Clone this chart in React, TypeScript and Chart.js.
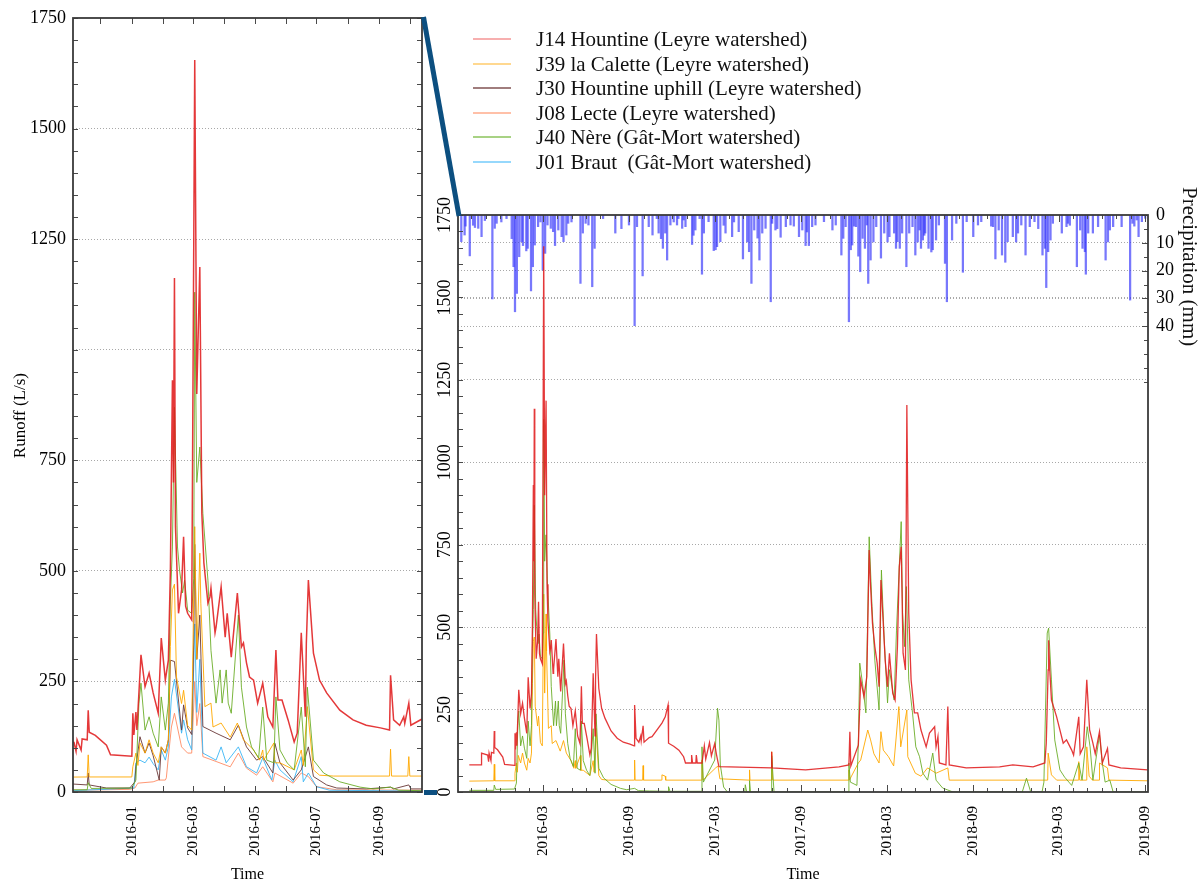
import React, { useEffect, useRef } from 'react';
import { Chart, registerables } from 'chart.js';

Chart.register(...registerables);

type Pt = [string, number];

const FONT = '"Liberation Serif", "Times New Roman", serif';

// ---------- Runoff series (L/s) ----------
const J14_HOUNTINE: Pt[] = [
  ['2015-09-27', 82], ['2015-10-22', 82], ['2015-10-23', 118], ['2015-11-05', 112], ['2015-11-07', 92],
  ['2015-11-08', 118], ['2015-11-12', 95], ['2015-11-13', 120], ['2015-11-18', 118], ['2015-11-19', 185],
  ['2015-11-20', 135], ['2015-11-26', 128], ['2015-12-07', 106], ['2015-12-11', 84], ['2016-01-01', 81],
  ['2016-01-02', 178], ['2016-01-03', 129], ['2016-01-05', 181], ['2016-01-06', 140], ['2016-01-10', 310],
  ['2016-01-14', 238], ['2016-01-18', 269], ['2016-01-22', 224], ['2016-01-27', 178], ['2016-01-30', 348],
  ['2016-02-03', 253], ['2016-02-06', 298], ['2016-02-08', 502], ['2016-02-10', 931], ['2016-02-11', 700],
  ['2016-02-12', 1162], ['2016-02-13', 600], ['2016-02-16', 404], ['2016-02-19', 457], ['2016-02-21', 577],
  ['2016-02-23', 420], ['2016-02-25', 404], ['2016-02-29', 389], ['2016-03-03', 1655], ['2016-03-05', 900],
  ['2016-03-08', 1187], ['2016-03-10', 630], ['2016-03-12', 518], ['2016-03-16', 427], ['2016-03-18', 441],
  ['2016-03-19', 461], ['2016-03-23', 360], ['2016-03-24', 373], ['2016-03-29', 464], ['2016-04-02', 350],
  ['2016-04-04', 404], ['2016-04-08', 305], ['2016-04-14', 450], ['2016-04-18', 328], ['2016-04-20', 337],
  ['2016-04-23', 292], ['2016-04-26', 260], ['2016-04-30', 253], ['2016-05-04', 201], ['2016-05-09', 246],
  ['2016-05-14', 170], ['2016-05-19', 147], ['2016-05-22', 321], ['2016-05-24', 208], ['2016-05-28', 208],
  ['2016-06-03', 163], ['2016-06-09', 113], ['2016-06-12', 133], ['2016-06-16', 360], ['2016-06-20', 170],
  ['2016-06-21', 337], ['2016-06-23', 479], ['2016-06-28', 314], ['2016-07-04', 253], ['2016-07-11', 224],
  ['2016-07-24', 185], ['2016-08-06', 163], ['2016-08-19', 151], ['2016-09-02', 145], ['2016-09-11', 140],
  ['2016-09-12', 264], ['2016-09-15', 163], ['2016-09-21', 151], ['2016-09-25', 170], ['2016-09-26', 155],
  ['2016-09-30', 201], ['2016-10-02', 151], ['2016-10-13', 165], ['2016-10-19', 168], ['2016-11-09', 209],
  ['2016-11-16', 228], ['2016-11-22', 264], ['2016-11-23', 148], ['2016-12-04', 139], ['2016-12-15', 127],
  ['2016-12-25', 107], ['2016-12-29', 88], ['2017-01-10', 88], ['2017-01-11', 112], ['2017-01-13', 88],
  ['2017-01-20', 88], ['2017-01-21', 112], ['2017-01-23', 88], ['2017-02-02', 88], ['2017-02-07', 140],
  ['2017-02-10', 100], ['2017-02-18', 150], ['2017-02-22', 110], ['2017-03-01', 146], ['2017-03-05', 112],
  ['2017-03-10', 77], ['2017-06-29', 73], ['2017-06-30', 122], ['2017-07-01', 73], ['2017-09-10', 67],
  ['2017-11-20', 76], ['2017-12-11', 82], ['2017-12-13', 183], ['2017-12-15', 79], ['2017-12-31', 142],
  ['2018-01-05', 340], ['2018-01-12', 289], ['2018-01-18', 350], ['2018-01-23', 734], ['2018-01-26', 623],
  ['2018-01-30', 512], ['2018-02-04', 441], ['2018-02-09', 391], ['2018-02-13', 319], ['2018-02-17', 643],
  ['2018-02-20', 562], ['2018-02-26', 400], ['2018-03-03', 319], ['2018-03-07', 421], ['2018-03-14', 300],
  ['2018-03-19', 279], ['2018-03-24', 441], ['2018-03-28', 683], ['2018-04-01', 744], ['2018-04-05', 421],
  ['2018-04-10', 370], ['2018-04-13', 1174], ['2018-04-17', 543], ['2018-04-22', 340], ['2018-04-29', 240],
  ['2018-05-06', 240], ['2018-05-13', 188], ['2018-05-24', 137], ['2018-05-31', 179], ['2018-06-11', 198],
  ['2018-06-14', 137], ['2018-06-18', 168], ['2018-06-21', 88], ['2018-07-05', 82], ['2018-07-09', 259],
  ['2018-07-12', 82], ['2018-08-17', 73], ['2018-10-27', 76], ['2018-11-24', 82], ['2019-01-06', 76],
  ['2019-01-31', 88], ['2019-02-03', 148], ['2019-02-07', 370], ['2019-02-08', 460], ['2019-02-10', 380],
  ['2019-02-14', 279], ['2019-02-25', 228], ['2019-03-11', 148], ['2019-03-18', 158], ['2019-03-29', 127],
  ['2019-04-02', 112], ['2019-04-13', 228], ['2019-04-16', 116], ['2019-04-23', 137], ['2019-04-30', 340],
  ['2019-05-06', 188], ['2019-05-13', 148], ['2019-05-18', 116], ['2019-05-27', 183], ['2019-06-02', 88],
  ['2019-06-13', 132], ['2019-06-16', 82], ['2019-07-11', 73], ['2019-09-06', 67],
];

const J39_CALETTE: Pt[] = [
  ['2015-09-27', 33], ['2015-11-18', 34], ['2015-11-19', 84], ['2015-11-20', 34], ['2016-01-01', 34],
  ['2016-01-02', 57], ['2016-01-05', 88], ['2016-01-07', 60], ['2016-01-09', 111], ['2016-01-14', 88],
  ['2016-01-18', 118], ['2016-01-22', 88], ['2016-01-27', 66], ['2016-01-30', 102], ['2016-02-03', 88],
  ['2016-02-06', 118], ['2016-02-08', 329], ['2016-02-10', 457], ['2016-02-12', 470], ['2016-02-14', 260],
  ['2016-02-19', 200], ['2016-02-21', 230], ['2016-02-25', 150], ['2016-02-29', 140], ['2016-03-03', 600],
  ['2016-03-05', 300], ['2016-03-08', 540], ['2016-03-09', 427], ['2016-03-13', 193], ['2016-03-19', 201],
  ['2016-03-21', 147], ['2016-03-29', 156], ['2016-04-07', 124], ['2016-04-14', 156], ['2016-04-20', 118],
  ['2016-04-30', 95], ['2016-05-06', 72], ['2016-05-09', 95], ['2016-05-10', 72], ['2016-05-20', 111],
  ['2016-05-21', 66], ['2016-05-26', 66], ['2016-06-09', 50], ['2016-06-16', 95], ['2016-06-18', 60],
  ['2016-06-22', 193], ['2016-06-28', 50], ['2016-07-04', 38], ['2016-07-18', 36], ['2016-09-11', 36],
  ['2016-09-12', 97], ['2016-09-13', 36], ['2016-09-29', 36], ['2016-09-30', 80], ['2016-10-01', 36],
  ['2016-11-08', 36], ['2016-11-09', 52], ['2016-11-16', 48], ['2016-11-17', 36], ['2017-02-01', 36],
  ['2017-02-02', 97], ['2017-02-04', 36], ['2017-03-03', 73], ['2017-03-08', 79], ['2017-03-12', 40],
  ['2017-05-13', 36], ['2017-05-14', 67], ['2017-05-15', 36], ['2017-06-29', 36], ['2017-06-30', 122],
  ['2017-07-02', 36], ['2017-12-10', 36], ['2017-12-11', 67], ['2017-12-12', 36], ['2017-12-31', 88],
  ['2018-01-05', 97], ['2018-01-20', 188], ['2018-01-26', 158], ['2018-02-02', 116], ['2018-02-13', 88],
  ['2018-02-17', 183], ['2018-02-22', 127], ['2018-03-05', 107], ['2018-03-16', 79], ['2018-03-27', 259],
  ['2018-03-31', 137], ['2018-04-13', 249], ['2018-04-15', 107], ['2018-05-01', 57], ['2018-05-13', 48],
  ['2018-05-27', 73], ['2018-06-03', 67], ['2018-06-14', 57], ['2018-07-09', 73], ['2018-07-12', 36],
  ['2019-02-06', 36], ['2019-02-07', 118], ['2019-02-14', 52], ['2019-02-25', 36], ['2019-04-12', 36],
  ['2019-04-13', 92], ['2019-04-15', 36], ['2019-04-29', 36], ['2019-04-30', 137], ['2019-05-05', 48],
  ['2019-05-12', 36], ['2019-05-26', 36], ['2019-05-27', 88], ['2019-06-13', 73], ['2019-06-16', 36],
  ['2019-09-06', 34],
];

const J40_NERE: Pt[] = [
  ['2015-09-27', 5], ['2015-11-18', 5], ['2015-11-19', 21], ['2015-11-22', 8], ['2016-01-01', 9],
  ['2016-01-05', 27], ['2016-01-08', 201], ['2016-01-10', 246], ['2016-01-14', 140], ['2016-01-18', 170],
  ['2016-01-22', 133], ['2016-01-27', 102], ['2016-01-30', 215], ['2016-02-03', 140], ['2016-02-06', 201],
  ['2016-02-08', 434], ['2016-02-10', 554], ['2016-02-12', 870], ['2016-02-15', 554], ['2016-02-17', 502],
  ['2016-02-20', 450], ['2016-02-22', 479], ['2016-02-25', 411], ['2016-02-29', 404], ['2016-03-02', 482],
  ['2016-03-03', 1130], ['2016-03-05', 700], ['2016-03-08', 780], ['2016-03-11', 630], ['2016-03-16', 479],
  ['2016-03-19', 320], ['2016-03-24', 201], ['2016-03-28', 276], ['2016-03-30', 201], ['2016-04-03', 276],
  ['2016-04-05', 201], ['2016-04-08', 178], ['2016-04-15', 400], ['2016-04-18', 237], ['2016-04-23', 147],
  ['2016-04-28', 102], ['2016-05-05', 77], ['2016-05-09', 192], ['2016-05-13', 72], ['2016-05-20', 66],
  ['2016-05-22', 215], ['2016-05-26', 95], ['2016-06-02', 66], ['2016-06-09', 50], ['2016-06-16', 192],
  ['2016-06-20', 57], ['2016-06-22', 237], ['2016-06-28', 72], ['2016-07-08', 43], ['2016-07-24', 23],
  ['2016-08-13', 11], ['2016-08-26', 7], ['2016-09-12', 11], ['2016-09-20', 4], ['2016-10-13', 3],
  ['2016-11-22', 2], ['2016-11-23', 16], ['2016-11-26', 2], ['2017-02-01', 2], ['2017-02-02', 137],
  ['2017-02-05', 30], ['2017-03-01', 97], ['2017-03-07', 254], ['2017-03-10', 218], ['2017-03-13', 82],
  ['2017-03-20', 15], ['2017-03-28', 0], ['2017-05-04', 0], ['2017-05-05', 22], ['2017-05-08', 0],
  ['2017-05-13', 0], ['2017-05-14', 35], ['2017-05-16', 0], ['2017-06-29', 0], ['2017-06-30', 110],
  ['2017-07-05', 0], ['2017-12-10', 0], ['2017-12-11', 88], ['2017-12-14', 30], ['2017-12-28', 20],
  ['2017-12-31', 150], ['2018-01-03', 391], ['2018-01-09', 328], ['2018-01-16', 240], ['2018-01-23', 774],
  ['2018-01-29', 562], ['2018-02-04', 400], ['2018-02-13', 249], ['2018-02-18', 673], ['2018-02-24', 461],
  ['2018-03-03', 270], ['2018-03-07', 371], ['2018-03-17', 279], ['2018-03-22', 491], ['2018-04-01', 820],
  ['2018-04-04', 543], ['2018-04-08', 441], ['2018-04-12', 623], ['2018-04-17', 340], ['2018-04-25', 240],
  ['2018-05-02', 137], ['2018-05-10', 107], ['2018-05-17', 57], ['2018-05-27', 36], ['2018-06-07', 118],
  ['2018-06-14', 36], ['2018-06-28', 12], ['2018-07-09', 6], ['2018-07-20', 0], ['2018-12-14', 0],
  ['2018-12-23', 42], ['2019-01-01', 0], ['2019-01-25', 0], ['2019-01-29', 30], ['2019-02-05', 482],
  ['2019-02-08', 497], ['2019-02-14', 340], ['2019-02-21', 158], ['2019-03-04', 67], ['2019-03-14', 45],
  ['2019-03-29', 20], ['2019-04-13', 88], ['2019-04-20', 36], ['2019-05-01', 198], ['2019-05-07', 137],
  ['2019-05-13', 36], ['2019-05-27', 173], ['2019-06-02', 88], ['2019-06-08', 30], ['2019-06-18', 36],
  ['2019-06-25', 0], ['2019-09-06', 0],
];

const J30_HOUNTINE_UPHILL: Pt[] = [
  ['2015-11-04', 18], ['2015-11-18', 16], ['2015-11-19', 43], ['2015-11-20', 16], ['2015-12-07', 9],
  ['2015-12-30', 9], ['2016-01-04', 23], ['2016-01-05', 57], ['2016-01-09', 125], ['2016-01-14', 88],
  ['2016-01-18', 111], ['2016-01-22', 82], ['2016-01-28', 27], ['2016-01-30', 102], ['2016-02-03', 88],
  ['2016-02-06', 118], ['2016-02-08', 298], ['2016-02-12', 295], ['2016-02-19', 140], ['2016-02-21', 197],
  ['2016-02-25', 145], ['2016-02-29', 130], ['2016-03-02', 337], ['2016-03-03', 560], ['2016-03-05', 300],
  ['2016-03-08', 400], ['2016-03-11', 148], ['2016-03-24', 133], ['2016-04-07', 118], ['2016-04-15', 151],
  ['2016-04-23', 102], ['2016-05-03', 72], ['2016-05-09', 80], ['2016-05-19', 43], ['2016-05-21', 110],
  ['2016-05-26', 66], ['2016-06-08', 27], ['2016-06-16', 50], ['2016-06-23', 102], ['2016-06-28', 35],
  ['2016-07-11', 16], ['2016-07-21', 9], ['2016-08-19', 7], ['2016-09-12', 11], ['2016-09-15', 7],
  ['2016-09-30', 16], ['2016-10-02', 7], ['2016-10-13', 7],
];

const J08_LECTE: Pt[] = [
  ['2015-11-04', 4], ['2015-12-30', 6], ['2016-01-04', 9], ['2016-01-07', 20], ['2016-01-22', 23],
  ['2016-01-27', 27], ['2016-02-03', 27], ['2016-02-04', 32], ['2016-02-06', 79], ['2016-02-09', 147],
  ['2016-02-12', 178], ['2016-02-19', 102], ['2016-02-25', 88], ['2016-02-29', 88], ['2016-03-03', 250],
  ['2016-03-05', 150], ['2016-03-08', 200], ['2016-03-11', 80], ['2016-03-24', 69], ['2016-04-07', 57],
  ['2016-04-15', 88], ['2016-04-23', 54], ['2016-05-03', 38], ['2016-05-09', 57], ['2016-05-19', 23],
  ['2016-05-21', 43], ['2016-06-08', 20], ['2016-06-16', 43], ['2016-06-23', 35], ['2016-07-01', 12],
  ['2016-07-21', 5], ['2016-10-13', 4],
];

const J01_BRAUT: Pt[] = [
  ['2015-11-04', 3], ['2016-01-03', 9], ['2016-01-05', 66], ['2016-01-09', 72], ['2016-01-14', 66],
  ['2016-01-18', 79], ['2016-01-22', 64], ['2016-01-27', 50], ['2016-01-30', 95], ['2016-02-03', 72],
  ['2016-02-06', 102], ['2016-02-09', 215], ['2016-02-12', 255], ['2016-02-19', 133], ['2016-02-21', 163],
  ['2016-02-25', 118], ['2016-02-29', 95], ['2016-03-03', 380], ['2016-03-05', 180], ['2016-03-08', 300],
  ['2016-03-11', 88], ['2016-03-24', 72], ['2016-03-29', 102], ['2016-04-03', 66], ['2016-04-15', 102],
  ['2016-04-23', 57], ['2016-05-03', 43], ['2016-05-09', 77], ['2016-05-18', 27], ['2016-05-21', 72],
  ['2016-05-26', 50], ['2016-06-08', 23], ['2016-06-16', 80], ['2016-06-18', 23], ['2016-06-23', 43],
  ['2016-07-01', 12], ['2016-07-14', 4], ['2016-10-13', 2],
];

// ---------- Daily precipitation (mm) ----------
const PRECIP_MM: Pt[] = [
  ['2015-09-10', 9.6], ['2015-09-17', 7.2], ['2015-09-19', 4], ['2015-09-28', 14.7], ['2015-10-05', 3.7],
  ['2015-10-09', 4.5], ['2015-10-16', 4.8], ['2015-10-23', 7.8], ['2015-10-30', 2], ['2015-11-15', 30.2],
  ['2015-11-20', 4.8], ['2015-11-24', 3], ['2015-12-04', 2.5], ['2015-12-15', 1.3], ['2015-12-26', 8.5],
  ['2015-12-30', 18.6], ['2016-01-02', 34.8], ['2016-01-06', 28.2], ['2016-01-11', 15], ['2016-01-16', 9.6],
  ['2016-01-19', 11], ['2016-01-26', 12.9], ['2016-01-29', 12], ['2016-02-05', 27.3], ['2016-02-09', 18.6],
  ['2016-02-13', 10.8], ['2016-02-20', 4.2], ['2016-02-25', 2.5], ['2016-03-01', 19.8], ['2016-03-06', 13.8],
  ['2016-03-11', 3.6], ['2016-03-18', 4.8], ['2016-03-23', 6], ['2016-03-27', 11], ['2016-04-03', 5.4],
  ['2016-04-10', 7.8], ['2016-04-14', 9.6], ['2016-04-20', 7.2], ['2016-04-24', 3], ['2016-05-01', 2.5],
  ['2016-05-20', 24.6], ['2016-05-25', 6.5], ['2016-05-31', 3], ['2016-06-06', 3.6], ['2016-06-14', 25.8],
  ['2016-06-19', 12], ['2016-07-07', 1.3], ['2016-08-02', 6.5], ['2016-08-15', 4.9], ['2016-08-31', 3.6],
  ['2016-09-12', 39.8], ['2016-09-17', 4.2], ['2016-09-29', 21.9], ['2016-10-12', 4.2], ['2016-10-20', 7.2],
  ['2016-10-29', 1.3], ['2016-11-02', 6.5], ['2016-11-07', 8.5], ['2016-11-11', 12], ['2016-11-16', 6.5],
  ['2016-11-20', 16.2], ['2016-11-27', 3.6], ['2016-12-04', 2.5], ['2016-12-11', 3.6], ['2016-12-14', 1.3],
  ['2016-12-22', 4.8], ['2016-12-25', 1.8], ['2016-12-29', 4.2], ['2017-01-12', 10.6], ['2017-01-15', 7.3],
  ['2017-01-19', 5.4], ['2017-01-28', 1.3], ['2017-02-02', 21.3], ['2017-02-06', 6.5], ['2017-02-16', 2.4],
  ['2017-02-27', 12.8], ['2017-03-03', 12.5], ['2017-03-06', 11.4], ['2017-03-13', 9.6], ['2017-03-20', 3.7],
  ['2017-03-24', 6.5], ['2017-04-07', 7.8], ['2017-04-11', 2.5], ['2017-04-21', 6], ['2017-04-30', 15.8],
  ['2017-05-09', 9.7], ['2017-05-13', 13.2], ['2017-05-18', 24.6], ['2017-05-24', 5.4], ['2017-05-31', 8.3],
  ['2017-06-04', 16.2], ['2017-06-10', 6.5], ['2017-06-17', 4.8], ['2017-06-28', 31.2], ['2017-07-01', 3],
  ['2017-07-08', 5.4], ['2017-07-12', 4.9], ['2017-07-19', 8], ['2017-07-30', 4.2], ['2017-08-09', 3.6],
  ['2017-08-16', 4], ['2017-08-27', 7.8], ['2017-09-03', 5.4], ['2017-09-10', 11], ['2017-09-13', 6.1],
  ['2017-09-17', 11], ['2017-09-24', 4.2], ['2017-10-01', 3.6], ['2017-10-19', 2.4], ['2017-11-06', 5.4],
  ['2017-11-13', 3.6], ['2017-11-25', 14.4], ['2017-11-29', 8.4], ['2017-12-04', 4.2], ['2017-12-11', 38.4],
  ['2017-12-15', 12.5], ['2017-12-18', 10.8], ['2017-12-22', 4], ['2017-12-26', 4.2], ['2017-12-31', 14.8],
  ['2018-01-04', 20.4], ['2018-01-09', 8.4], ['2018-01-14', 12], ['2018-01-18', 3.6], ['2018-01-21', 24.6],
  ['2018-01-26', 16.2], ['2018-02-01', 9.7], ['2018-02-07', 4.2], ['2018-02-17', 15.5], ['2018-02-24', 6.5],
  ['2018-03-03', 9.7], ['2018-03-07', 7.8], ['2018-03-17', 6.5], ['2018-03-21', 12], ['2018-03-24', 9.6],
  ['2018-03-29', 12], ['2018-04-03', 6.5], ['2018-04-12', 18.6], ['2018-04-18', 6.5], ['2018-04-25', 4.2],
  ['2018-05-01', 14.4], ['2018-05-06', 9.7], ['2018-05-10', 5.4], ['2018-05-13', 12], ['2018-05-17', 9],
  ['2018-05-20', 7.3], ['2018-05-22', 6.5], ['2018-05-29', 12], ['2018-06-04', 13.3], ['2018-06-07', 12.5],
  ['2018-06-14', 9], ['2018-06-20', 3.6], ['2018-07-03', 17.4], ['2018-07-07', 31.2], ['2018-07-18', 9],
  ['2018-07-27', 3], ['2018-08-10', 20.6], ['2018-08-18', 2.4], ['2018-09-01', 7.8], ['2018-09-11', 3.6],
  ['2018-09-18', 2.4], ['2018-10-09', 4], ['2018-10-13', 4.2], ['2018-10-18', 15.8], ['2018-10-25', 5.4],
  ['2018-11-01', 14.4], ['2018-11-08', 17], ['2018-11-13', 9.6], ['2018-11-24', 7.8], ['2018-12-01', 9.7],
  ['2018-12-05', 6.5], ['2018-12-12', 3.6], ['2018-12-21', 14.4], ['2018-12-30', 4.2], ['2019-01-09', 2.4],
  ['2019-01-17', 4.9], ['2019-01-26', 14.4], ['2019-01-31', 12], ['2019-02-03', 26.1], ['2019-02-07', 13.2],
  ['2019-02-12', 9], ['2019-02-17', 3], ['2019-03-08', 6.5], ['2019-03-18', 4.2], ['2019-03-21', 3],
  ['2019-03-25', 3.7], ['2019-04-09', 18.6], ['2019-04-16', 5.4], ['2019-04-21', 12], ['2019-04-26', 13.2],
  ['2019-04-28', 21.3], ['2019-05-03', 6.5], ['2019-05-13', 6.5], ['2019-05-24', 4.2], ['2019-06-09', 16.2],
  ['2019-06-14', 9.7], ['2019-06-18', 5.4], ['2019-06-25', 4.2], ['2019-07-13', 4.2], ['2019-07-31', 30.6],
  ['2019-08-05', 3], ['2019-08-09', 4], ['2019-08-14', 1.8], ['2019-08-18', 7.8], ['2019-08-25', 2.4],
  ['2019-09-01', 1.2],
];

// ---------- Axes ----------
const LEFT_RANGE: [string, string] = ['2015-11-04', '2016-10-13'];
const RIGHT_RANGE: [string, string] = ['2015-09-03', '2019-09-07'];
const LEFT_LABEL_MONTHS = [1, 3, 5, 7, 9];
const RIGHT_LABEL_MONTHS = [3, 9];
const RUNOFF_TICKS = [0, 250, 500, 750, 1000, 1250, 1500, 1750];
const RUNOFF_MAX = 1750;
const RUNOFF_MINOR_STEP = 50;
const PRECIP_TICKS = [0, 10, 20, 30, 40];
const PRECIP_AXIS_MAX = 207.5;
const PRECIP_MINOR_STEP = 5;
const PRECIP_MINOR_LAST = 60;

const SERIES = [
  { key: 'J14', label: 'J14 Hountine (Leyre watershed)', data: J14_HOUNTINE, color: 'rgba(224,28,30,0.88)', legend: 'rgba(240,110,110,0.55)' },
  { key: 'J39', label: 'J39 la Calette (Leyre watershed)', data: J39_CALETTE, color: 'rgba(255,168,0,0.9)', legend: 'rgba(255,190,70,0.6)' },
  { key: 'J30', label: 'J30 Hountine uphill (Leyre watershed)', data: J30_HOUNTINE_UPHILL, color: 'rgba(105,55,55,0.9)', legend: 'rgba(120,70,70,0.7)' },
  { key: 'J08', label: 'J08 Lecte (Leyre watershed)', data: J08_LECTE, color: 'rgba(255,140,100,0.9)', legend: 'rgba(255,150,110,0.6)' },
  { key: 'J40', label: 'J40 Nère (Gât-Mort watershed)', data: J40_NERE, color: 'rgba(105,172,35,0.88)', legend: 'rgba(110,180,50,0.6)' },
  { key: 'J01', label: 'J01 Braut  (Gât-Mort watershed)', data: J01_BRAUT, color: 'rgba(60,182,245,0.9)', legend: 'rgba(80,190,250,0.6)' },
];

const GRID = '#a8a8a8';

const toDay = (s: string): number => {
  const [y, m, d] = s.split('-').map(Number);
  return Date.UTC(y, m - 1, d) / 86400000;
};
const toXY = (pts: Pt[]) => pts.map(([d, v]) => ({ x: toDay(d), y: v }));

type MonthTick = { value: number; label: string; major: boolean };
function monthTicks(range: [string, string], labelMonths: number[]): MonthTick[] {
  const lo = toDay(range[0]);
  const hi = toDay(range[1]);
  const out: MonthTick[] = [];
  let [y, m] = range[0].split('-').map(Number);
  for (;;) {
    const v = Date.UTC(y, m - 1, 1) / 86400000;
    if (v > hi) break;
    if (v >= lo) {
      const major = labelMonths.includes(m);
      out.push({ value: v, label: major ? `${y}-${String(m).padStart(2, '0')}` : '', major });
    }
    m += 1;
    if (m > 12) { m = 1; y += 1; }
  }
  return out;
}
const steps = (from: number, to: number, step: number) => {
  const a: number[] = [];
  for (let v = from; v <= to + 1e-9; v += step) a.push(v);
  return a;
};

type Side = 'top' | 'bottom' | 'left' | 'right';
type MarkSpec = { scaleId: string; values: number[]; major?: number[]; len: number; majorLen?: number; sides: Side[] };

function framePlugin(id: string, marks: MarkSpec[]) {
  return {
    id,
    afterDraw(chart: any) {
      const { ctx, chartArea } = chart;
      const { left, right, top, bottom } = chartArea;
      ctx.save();
      ctx.strokeStyle = '#4a4a4a';
      ctx.lineWidth = 1;
      for (const spec of marks) {
        const scale = chart.scales[spec.scaleId];
        for (const v of spec.values) {
          const raw = scale.getPixelForValue(v);
          const p = Math.round(raw) + 0.5;
          const len = spec.major && spec.major.includes(v) ? (spec.majorLen as number) : spec.len;
          ctx.beginPath();
          for (const side of spec.sides) {
            if (side === 'bottom') { ctx.moveTo(p, bottom); ctx.lineTo(p, bottom - len); }
            if (side === 'top') { ctx.moveTo(p, top); ctx.lineTo(p, top + len); }
            if (side === 'left') { ctx.moveTo(left, p); ctx.lineTo(left + len, p); }
            if (side === 'right') { ctx.moveTo(right, p); ctx.lineTo(right - len, p); }
          }
          ctx.stroke();
        }
      }
      ctx.lineWidth = 1.8;
      ctx.strokeStyle = '#3a3a3a';
      ctx.strokeRect(left, top, right - left, bottom - top);
      ctx.restore();
    },
  };
}

const lineDs = (s: typeof SERIES[number], width = 1) => ({
  type: 'line' as const,
  label: s.label,
  data: toXY(s.data),
  borderColor: s.color,
  backgroundColor: s.color,
  borderWidth: width,
  pointRadius: 0,
  tension: 0,
  fill: false,
  xAxisID: 'x',
  yAxisID: 'y',
});

const byKey = (k: string) => SERIES.find((s) => s.key === k)!;

const noSidePadding = (s: any) => {
  s.paddingLeft = 0;
  s.paddingRight = 0;
};

function leftConfig(): any {
  const months = monthTicks(LEFT_RANGE, LEFT_LABEL_MONTHS);
  const labelMap = new Map(months.map((t) => [t.value, t.label]));
  const runoffMinor = steps(0, RUNOFF_MAX, RUNOFF_MINOR_STEP);
  return {
    type: 'line',
    data: {
      datasets: [
        lineDs(byKey('J14'), 1.5),
        lineDs(byKey('J40')),
        lineDs(byKey('J39')),
        lineDs(byKey('J30')),
        lineDs(byKey('J01')),
        lineDs(byKey('J08')),
      ],
    },
    options: {
      responsive: false,
      animation: false,
      devicePixelRatio: 1,
      layout: { padding: { top: 18, right: 18, left: 0, bottom: 0 } },
      plugins: { legend: { display: false }, tooltip: { enabled: false } },
      scales: {
        x: {
          type: 'linear',
          position: 'bottom',
          min: toDay(LEFT_RANGE[0]),
          max: toDay(LEFT_RANGE[1]),
          offset: false,
          afterBuildTicks: (s: any) => { s.ticks = months.map((t) => ({ value: t.value })); },
          afterFit: (s: any) => { s.height = 91; noSidePadding(s); },
          grid: { display: false, drawTicks: false, offset: false },
          border: { display: false },
          ticks: {
            autoSkip: false, minRotation: 90, maxRotation: 90, padding: 14, color: '#000',
            font: { family: FONT, size: 15 },
            callback: (v: number) => labelMap.get(v) ?? '',
          },
          title: { display: true, text: 'Time', color: '#000', font: { family: FONT, size: 16, lineHeight: 1 }, padding: 0 },
        },
        y: {
          type: 'linear',
          position: 'left',
          min: 0,
          max: RUNOFF_MAX,
          afterBuildTicks: (s: any) => { s.ticks = RUNOFF_TICKS.map((v) => ({ value: v })); },
          afterFit: (s: any) => { s.width = 73; s.paddingTop = 0; s.paddingBottom = 0; },
          grid: {
            drawTicks: false,
            lineWidth: 1,
            color: (c: any) => (c.tick && c.tick.value > 0 && c.tick.value < RUNOFF_MAX ? GRID : 'rgba(0,0,0,0)'),
          },
          border: { display: false, dash: [1, 2] },
          ticks: {
            autoSkip: false, padding: 7, color: '#000', font: { family: FONT, size: 18 },
            callback: (v: number) => (v === 1000 ? '' : String(v)),
          },
          title: {
            display: true,
            text: 'Runoff (L/s)\u00A0\u00A0\u00A0\u00A0\u00A0',
            color: '#000',
            font: { family: FONT, size: 17 },
            padding: { top: 10, bottom: 0 },
          },
        },
      },
    },
    plugins: [
      framePlugin('leftFrame', [
        { scaleId: 'x', values: months.map((t) => t.value), len: 6, sides: ['bottom', 'top'] },
        { scaleId: 'y', values: runoffMinor, len: 5, sides: ['left', 'right'] },
      ]),
    ],
  };
}

function rightConfig(): any {
  const months = monthTicks(RIGHT_RANGE, RIGHT_LABEL_MONTHS);
  const labelMap = new Map(months.map((t) => [t.value, t.label]));
  const runoffMinor = steps(0, RUNOFF_MAX, RUNOFF_MINOR_STEP);
  const precipMinor = steps(0, PRECIP_MINOR_LAST, PRECIP_MINOR_STEP);
  return {
    type: 'line',
    data: {
      datasets: [
        lineDs(byKey('J14'), 1.3),
        lineDs(byKey('J40')),
        lineDs(byKey('J39')),
        {
          type: 'bar',
          label: 'Precipitation',
          data: toXY(PRECIP_MM),
          xAxisID: 'x',
          yAxisID: 'yP',
          backgroundColor: 'rgba(50,50,250,0.66)',
          borderWidth: 0,
          barThickness: 1.6,
          grouped: false,
        },
      ],
    },
    options: {
      responsive: false,
      animation: false,
      devicePixelRatio: 1,
      layout: { padding: { top: 215, right: 0, left: 0, bottom: 0 } },
      plugins: { legend: { display: false }, tooltip: { enabled: false } },
      scales: {
        x: {
          type: 'linear',
          position: 'bottom',
          min: toDay(RIGHT_RANGE[0]),
          max: toDay(RIGHT_RANGE[1]),
          offset: false,
          afterBuildTicks: (s: any) => { s.ticks = months.map((t) => ({ value: t.value })); },
          afterFit: (s: any) => { s.height = 91; noSidePadding(s); },
          grid: { display: false, drawTicks: false, offset: false },
          border: { display: false },
          ticks: {
            autoSkip: false, minRotation: 90, maxRotation: 90, padding: 14, color: '#000',
            font: { family: FONT, size: 15 },
            callback: (v: number) => labelMap.get(v) ?? '',
          },
          title: { display: true, text: 'Time', color: '#000', font: { family: FONT, size: 16, lineHeight: 1 }, padding: 0 },
        },
        y: {
          type: 'linear',
          position: 'left',
          min: 0,
          max: RUNOFF_MAX,
          afterBuildTicks: (s: any) => { s.ticks = RUNOFF_TICKS.map((v) => ({ value: v })); },
          afterFit: (s: any) => { s.width = 28; s.paddingTop = 0; s.paddingBottom = 0; },
          grid: {
            drawTicks: false,
            lineWidth: 1,
            color: (c: any) => (c.tick && c.tick.value > 0 && c.tick.value < RUNOFF_MAX ? GRID : 'rgba(0,0,0,0)'),
          },
          border: { display: false, dash: [1, 2] },
          ticks: {
            autoSkip: false, minRotation: 90, maxRotation: 90, crossAlign: 'center', padding: -5, color: '#000',
            font: { family: FONT, size: 18 },
            callback: (v: number) => String(v),
          },
        },
        yP: {
          type: 'linear',
          position: 'right',
          reverse: true,
          min: 0,
          max: PRECIP_AXIS_MAX,
          beginAtZero: true,
          afterBuildTicks: (s: any) => { s.ticks = PRECIP_TICKS.map((v) => ({ value: v })); },
          afterFit: (s: any) => { s.width = 55; s.paddingTop = 0; s.paddingBottom = 0; },
          grid: {
            drawTicks: false,
            lineWidth: 1,
            color: (c: any) => (c.tick && c.tick.value > 0 ? GRID : 'rgba(0,0,0,0)'),
          },
          border: { display: false, dash: [1, 2] },
          ticks: { autoSkip: false, padding: 8, color: '#000', font: { family: FONT, size: 18 }, callback: (v: number) => String(v) },
        },
      },
    },
    plugins: [
      framePlugin('rightFrame', [
        { scaleId: 'x', values: months.map((t) => t.value), major: months.filter((t) => t.major).map((t) => t.value), len: 4, majorLen: 7, sides: ['bottom', 'top'] },
        { scaleId: 'y', values: runoffMinor, len: 5, sides: ['left'] },
        { scaleId: 'yP', values: precipMinor, major: PRECIP_TICKS, len: 4, majorLen: 6, sides: ['right'] },
      ]),
    ],
  };
}

const LEGEND_TOP = 27;
const LEGEND_ROW = 24.5;

export default function App() {
  const leftRef = useRef<HTMLCanvasElement>(null);
  const rightRef = useRef<HTMLCanvasElement>(null);

  useEffect(() => {
    const l = new Chart(leftRef.current as HTMLCanvasElement, leftConfig());
    const r = new Chart(rightRef.current as HTMLCanvasElement, rightConfig());
    return () => {
      l.destroy();
      r.destroy();
    };
  }, []);

  return (
    <div style={{ position: 'absolute', left: 0, top: 0, width: 1203, height: 883, background: '#fff', overflow: 'hidden' }}>
      <canvas ref={leftRef} width={440} height={883} style={{ position: 'absolute', left: 0, top: 0, width: 440, height: 883 }} />
      <canvas ref={rightRef} width={773} height={883} style={{ position: 'absolute', left: 430, top: 0, width: 773, height: 883 }} />
      <svg width={1203} height={883} style={{ position: 'absolute', left: 0, top: 0, pointerEvents: 'none' }}>
        <line x1={423.5} y1={17} x2={459} y2={216} stroke="#0c4f80" strokeWidth={5} />
        <rect x={424} y={790} width={13} height={5} fill="#0c4f80" />
      </svg>
      <div style={{ position: 'absolute', left: 0, top: 0 }}>
        {SERIES.map((s, i) => (
          <div key={s.key} style={{ position: 'absolute', left: 0, top: LEGEND_TOP + i * LEGEND_ROW, height: 24, width: 700 }}>
            <div style={{ position: 'absolute', left: 473, top: 11, width: 38, height: 2, background: s.legend }} />
            <div
              style={{
                position: 'absolute', left: 536, top: 0, height: 24, lineHeight: '24px',
                fontFamily: FONT, fontSize: 21, color: '#111', whiteSpace: 'pre',
              }}
            >
              {s.label}
            </div>
          </div>
        ))}
      </div>
      <div
        style={{
          position: 'absolute', left: 1178, top: 187, writingMode: 'vertical-rl', lineHeight: '24px',
          fontFamily: FONT, fontSize: 21, color: '#111', whiteSpace: 'nowrap',
        }}
      >
        Precipitation (mm)
      </div>
    </div>
  );
}
